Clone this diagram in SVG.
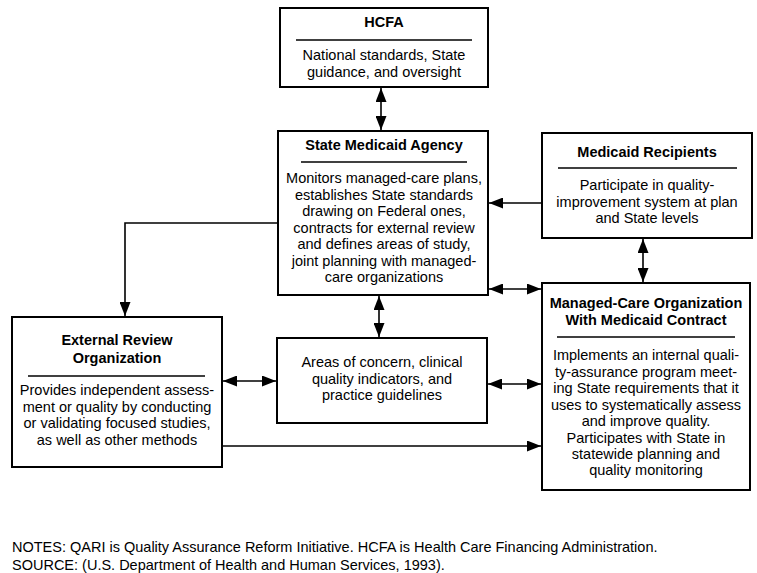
<svg xmlns="http://www.w3.org/2000/svg" width="757" height="573" viewBox="0 0 757 573">
<style>
.box{fill:#fff;stroke:#000;stroke-width:2}
.div{stroke:#000;stroke-width:1.3}
.t{font-family:"Liberation Sans",Arial,sans-serif;font-size:14.5px;fill:#000;text-anchor:middle}
.b{font-weight:bold}
.n{font-family:"Liberation Sans",Arial,sans-serif;font-size:14.5px;fill:#000}
.c{fill:none;stroke:#000;stroke-width:1.6}
</style>
<defs>
<marker id="ah" viewBox="0 0 14 11" refX="14" refY="5.5" markerWidth="14" markerHeight="11" markerUnits="userSpaceOnUse" orient="auto-start-reverse">
<path d="M0,0 L14,5.5 L0,11 Z" fill="#000"/>
</marker>
</defs>
<rect width="757" height="573" fill="#fff"/>
<g id="connectors">
<line class="c" x1="381" y1="88" x2="381" y2="130" marker-start="url(#ah)" marker-end="url(#ah)"/>
<line class="c" x1="542" y1="203" x2="489" y2="203" marker-end="url(#ah)"/>
<polyline class="c" points="278,223 125,223 125,316" marker-end="url(#ah)"/>
<line class="c" x1="643" y1="239" x2="643" y2="282" marker-start="url(#ah)" marker-end="url(#ah)"/>
<line class="c" x1="489" y1="289" x2="541" y2="289" marker-start="url(#ah)" marker-end="url(#ah)"/>
<line class="c" x1="379" y1="296" x2="379" y2="337" marker-start="url(#ah)" marker-end="url(#ah)"/>
<line class="c" x1="223" y1="381" x2="276" y2="381" marker-start="url(#ah)" marker-end="url(#ah)"/>
<line class="c" x1="488" y1="384" x2="541" y2="384" marker-start="url(#ah)" marker-end="url(#ah)"/>
<line class="c" x1="223" y1="446" x2="541" y2="446" marker-end="url(#ah)"/>
</g>
<g id="hcfa">
<rect class="box" x="280" y="8" width="208" height="79"/>
<text class="t b" x="384" y="27">HCFA</text>
<line class="div" x1="296" y1="40" x2="472" y2="40"/>
<text class="t" x="384" y="60">National standards, State</text>
<text class="t" x="384" y="77">guidance, and oversight</text>
</g>
<g id="state">
<rect class="box" x="278" y="131" width="210" height="164"/>
<text class="t b" x="384" y="150">State Medicaid Agency</text>
<line class="div" x1="301" y1="162" x2="467" y2="162"/>
<text class="t" x="384" y="183">Monitors managed-care plans,</text>
<text class="t" x="384" y="199.5">establishes State standards</text>
<text class="t" x="384" y="216">drawing on Federal ones,</text>
<text class="t" x="384" y="232.5">contracts for external review</text>
<text class="t" x="384" y="249">and defines areas of study,</text>
<text class="t" x="384" y="265.5">joint planning with managed-</text>
<text class="t" x="384" y="282">care organizations</text>
</g>
<g id="recipients">
<rect class="box" x="542" y="133" width="210" height="105"/>
<text class="t b" x="647" y="157">Medicaid Recipients</text>
<line class="div" x1="558" y1="168" x2="737" y2="168"/>
<text class="t" x="647" y="190">Participate in quality-</text>
<text class="t" x="647" y="207">improvement system at plan</text>
<text class="t" x="647" y="223">and State levels</text>
</g>
<g id="mco">
<rect class="box" x="542" y="283" width="208" height="207"/>
<text class="t b" x="646" y="308">Managed-Care Organization</text>
<text class="t b" x="646" y="325">With Medicaid Contract</text>
<line class="div" x1="557" y1="337" x2="735" y2="337"/>
<text class="t" x="646" y="360">Implements an internal quali-</text>
<text class="t" x="646" y="376.5">ty-assurance program meet-</text>
<text class="t" x="646" y="393">ing State requirements that it</text>
<text class="t" x="646" y="409.5">uses to systematically assess</text>
<text class="t" x="646" y="426">and improve quality.</text>
<text class="t" x="646" y="442.5">Participates with State in</text>
<text class="t" x="646" y="459">statewide planning and</text>
<text class="t" x="646" y="475">quality monitoring</text>
</g>
<g id="external">
<rect class="box" x="12" y="317" width="210" height="150"/>
<text class="t b" x="117" y="345">External Review</text>
<text class="t b" x="117" y="363">Organization</text>
<line class="div" x1="28" y1="376" x2="205" y2="376"/>
<text class="t" x="117" y="395">Provides independent assess-</text>
<text class="t" x="117" y="412">ment or quality by conducting</text>
<text class="t" x="117" y="428">or validating focused studies,</text>
<text class="t" x="117" y="445">as well as other methods</text>
</g>
<g id="areas">
<rect class="box" x="277" y="338" width="210" height="85"/>
<text class="t" x="382" y="367">Areas of concern, clinical</text>
<text class="t" x="382" y="383.5">quality indicators, and</text>
<text class="t" x="382" y="400">practice guidelines</text>
</g>
<g id="notes">
<text class="n" x="12" y="552">NOTES: QARI is Quality Assurance Reform Initiative. HCFA is Health Care Financing Administration.</text>
<text class="n" x="12" y="570">SOURCE: (U.S. Department of Health and Human Services, 1993).</text>
</g>
</svg>
